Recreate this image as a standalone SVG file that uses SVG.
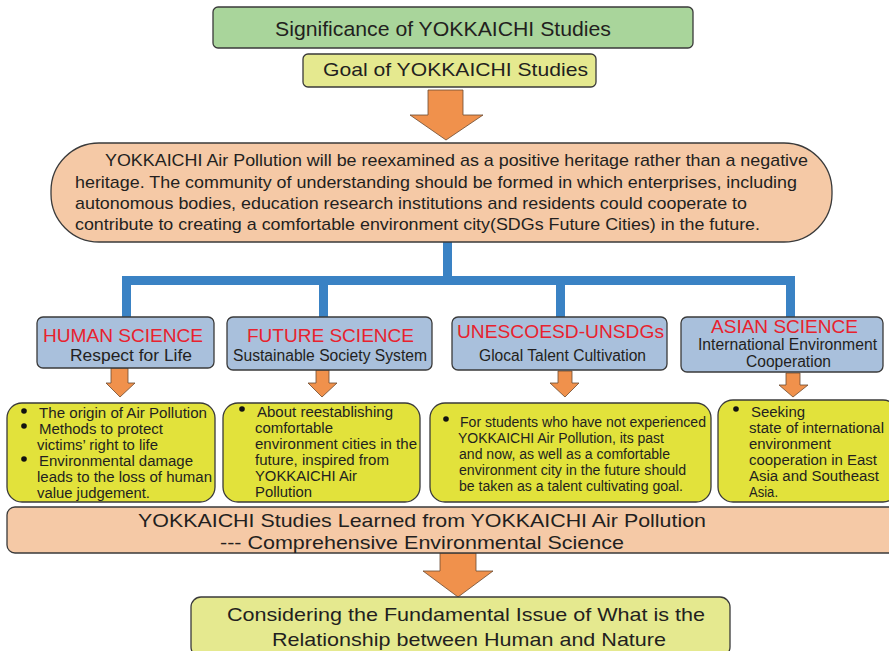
<svg xmlns="http://www.w3.org/2000/svg" width="889" height="651" viewBox="0 0 889 651">
  <style>
    text { font-family: "Liberation Sans", Arial, sans-serif; fill: #231f20; }
    .box { stroke: #3a3a3a; stroke-width: 1.3; }
    .green { fill: #a9d59b; }
    .lime { fill: #e5e98f; }
    .salmon { fill: #f5c9a6; }
    .cat { fill: #a9c0dc; }
    .yel { fill: #e2e23b; }
    .arrow { fill: #f0914c; stroke: #6b4a30; stroke-width: 0.8; }
    .red { fill: #e8222e; font-size: 18.5px; }
    .sub { font-size: 16px; }
    .bl { font-size: 14px; }
    .dot { fill: #111; }
    .conn { fill: #3a82c4; }
  </style>

  <!-- connectors -->
  <g id="connectors">
    <rect class="conn" x="443" y="242" width="9" height="36"/>
    <rect class="conn" x="122" y="276" width="673" height="9"/>
    <rect class="conn" x="122" y="276" width="9" height="41"/>
    <rect class="conn" x="319" y="276" width="9" height="41"/>
    <rect class="conn" x="556" y="276" width="9" height="41"/>
    <rect class="conn" x="786" y="276" width="9" height="41"/>
    <polygon class="arrow" points="428,90 463,90 463,115 483,115 446,140 410,115 428,115"/>
    <polygon class="arrow" points="111,368 128,368 128,383 135,383 120,397 106,383 111,383"/>
    <polygon class="arrow" points="316,370 329,370 329,383 337,383 322,397 308,383 316,383"/>
    <polygon class="arrow" points="558,371 572,371 572,383 579,383 565,397 550,383 558,383"/>
    <polygon class="arrow" points="786,373 800,373 800,385 808,385 793,397 779,385 786,385"/>
    <polygon class="arrow" points="440,553 476,553 476,571 493,571 458,597 423,571 440,571"/>
  </g>

  <g id="significance">
    <rect class="box green" x="213" y="7" width="480" height="41" rx="5"/>
    <text x="275" y="36" font-size="20.5" textLength="336" lengthAdjust="spacingAndGlyphs">Significance of YOKKAICHI Studies</text>
  </g>

  <g id="goal">
    <rect class="box lime" x="303" y="54" width="293" height="33" rx="5"/>
    <text x="323" y="76" font-size="18.5" textLength="265" lengthAdjust="spacingAndGlyphs">Goal of YOKKAICHI Studies</text>
  </g>

  <g id="vision">
    <rect class="box salmon" x="51" y="143" width="781" height="99" rx="48"/>
    <g font-size="17">
      <text x="105" y="166" textLength="703" lengthAdjust="spacingAndGlyphs">YOKKAICHI Air Pollution will be reexamined as a positive heritage rather than a negative</text>
      <text x="75" y="188" textLength="722" lengthAdjust="spacingAndGlyphs">heritage. The community of understanding should be formed in which enterprises, including</text>
      <text x="75" y="209" textLength="672" lengthAdjust="spacingAndGlyphs">autonomous bodies, education research institutions and residents could cooperate to</text>
      <text x="75" y="230" textLength="685" lengthAdjust="spacingAndGlyphs">contribute to creating a comfortable environment city(SDGs Future Cities) in the future.</text>
    </g>
  </g>

  <g id="human-science">
    <rect class="box cat" x="37" y="317" width="177" height="51" rx="6"/>
    <text class="red" x="43" y="342" textLength="160" lengthAdjust="spacingAndGlyphs">HUMAN SCIENCE</text>
    <text class="sub" x="70" y="361" textLength="122" lengthAdjust="spacingAndGlyphs">Respect for Life</text>
  </g>

  <g id="future-science">
    <rect class="box cat" x="227" y="317" width="205" height="53" rx="6"/>
    <text class="red" x="247" y="342" textLength="167" lengthAdjust="spacingAndGlyphs">FUTURE SCIENCE</text>
    <text class="sub" x="233" y="361" textLength="194" lengthAdjust="spacingAndGlyphs">Sustainable Society System</text>
  </g>

  <g id="unesco">
    <rect class="box cat" x="452" y="317" width="215" height="53" rx="6"/>
    <text class="red" x="457" y="338" textLength="207" lengthAdjust="spacingAndGlyphs">UNESCOESD-UNSDGs</text>
    <text class="sub" x="479" y="361" textLength="167" lengthAdjust="spacingAndGlyphs">Glocal Talent Cultivation</text>
  </g>

  <g id="asian-science">
    <rect class="box cat" x="681" y="317" width="202" height="55" rx="6"/>
    <text class="red" x="711" y="333" textLength="147" lengthAdjust="spacingAndGlyphs">ASIAN SCIENCE</text>
    <text class="sub" x="698" y="350" textLength="179" lengthAdjust="spacingAndGlyphs">International Environment</text>
    <text class="sub" x="746" y="367" textLength="85" lengthAdjust="spacingAndGlyphs">Cooperation</text>
  </g>

  <g id="human-topics">
    <rect class="box yel" x="7" y="403" width="208" height="99" rx="15"/>
    <circle class="dot" cx="24" cy="411" r="2.8"/>
    <circle class="dot" cx="24" cy="426" r="2.8"/>
    <circle class="dot" cx="24" cy="459" r="2.8"/>
    <g class="bl">
      <text x="39" y="418" textLength="168" lengthAdjust="spacingAndGlyphs">The origin of Air Pollution</text>
      <text x="39" y="434" textLength="124" lengthAdjust="spacingAndGlyphs">Methods to protect</text>
      <text x="37" y="450" textLength="121" lengthAdjust="spacingAndGlyphs">victims’ right to life</text>
      <text x="39" y="466" textLength="154" lengthAdjust="spacingAndGlyphs">Environmental damage</text>
      <text x="37" y="482" textLength="175" lengthAdjust="spacingAndGlyphs">leads to the loss of human</text>
      <text x="37" y="498" textLength="113" lengthAdjust="spacingAndGlyphs">value judgement.</text>
    </g>
  </g>

  <g id="future-topics">
    <rect class="box yel" x="223" y="403" width="197" height="99" rx="15"/>
    <circle class="dot" cx="242" cy="409" r="2.8"/>
    <g class="bl">
      <text x="257" y="417" textLength="136" lengthAdjust="spacingAndGlyphs">About reestablishing</text>
      <text x="255" y="433" textLength="78" lengthAdjust="spacingAndGlyphs">comfortable</text>
      <text x="255" y="449" textLength="162" lengthAdjust="spacingAndGlyphs">environment cities in the</text>
      <text x="255" y="465" textLength="134" lengthAdjust="spacingAndGlyphs">future, inspired from</text>
      <text x="255" y="481" textLength="102" lengthAdjust="spacingAndGlyphs">YOKKAICHI Air</text>
      <text x="255" y="497" textLength="57" lengthAdjust="spacingAndGlyphs">Pollution</text>
    </g>
  </g>

  <g id="unesco-topics">
    <rect class="box yel" x="430" y="403" width="281" height="99" rx="15"/>
    <circle class="dot" cx="446" cy="419" r="2.8"/>
    <g class="bl">
      <text x="460" y="427" textLength="246" lengthAdjust="spacingAndGlyphs">For students who have not experienced</text>
      <text x="458" y="443" textLength="206" lengthAdjust="spacingAndGlyphs">YOKKAICHI Air Pollution, its past</text>
      <text x="459" y="459" textLength="211" lengthAdjust="spacingAndGlyphs">and now, as well as a comfortable</text>
      <text x="459" y="475" textLength="227" lengthAdjust="spacingAndGlyphs">environment city in the future should</text>
      <text x="459" y="491" textLength="224" lengthAdjust="spacingAndGlyphs">be taken as a talent cultivating goal.</text>
    </g>
  </g>

  <g id="asian-topics">
    <rect class="box yel" x="718" y="400" width="180" height="102" rx="15"/>
    <circle class="dot" cx="736" cy="409" r="2.8"/>
    <g class="bl">
      <text x="751" y="417" textLength="54" lengthAdjust="spacingAndGlyphs">Seeking</text>
      <text x="749" y="433" textLength="135" lengthAdjust="spacingAndGlyphs">state of international</text>
      <text x="749" y="449" textLength="82" lengthAdjust="spacingAndGlyphs">environment</text>
      <text x="749" y="465" textLength="128" lengthAdjust="spacingAndGlyphs">cooperation in East</text>
      <text x="749" y="481" textLength="130" lengthAdjust="spacingAndGlyphs">Asia and Southeast</text>
      <text x="749" y="497" textLength="29" lengthAdjust="spacingAndGlyphs">Asia.</text>
    </g>
  </g>

  <g id="comprehensive">
    <rect class="box salmon" x="7" y="507" width="892" height="46" rx="8"/>
    <text x="138" y="527" font-size="19" textLength="568" lengthAdjust="spacingAndGlyphs">YOKKAICHI Studies Learned from YOKKAICHI Air Pollution</text>
    <text x="220" y="549" font-size="19" textLength="404" lengthAdjust="spacingAndGlyphs">--- Comprehensive Environmental Science</text>
  </g>

  <g id="fundamental-issue">
    <rect class="box lime" x="191" y="597" width="539" height="60" rx="10"/>
    <text x="227" y="621" font-size="19" textLength="478" lengthAdjust="spacingAndGlyphs">Considering the Fundamental Issue of What is the</text>
    <text x="272" y="646" font-size="19" textLength="394" lengthAdjust="spacingAndGlyphs">Relationship between Human and Nature</text>
  </g>
</svg>
